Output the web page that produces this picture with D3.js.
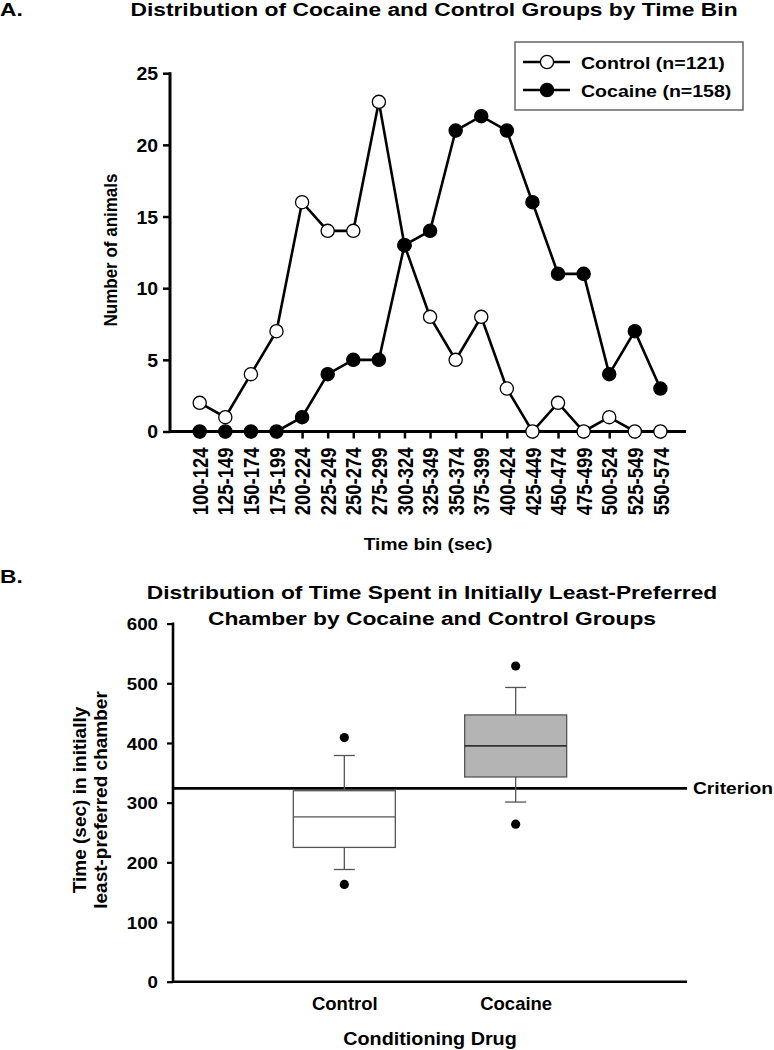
<!DOCTYPE html>
<html><head><meta charset="utf-8">
<script src="https://cdn.jsdelivr.net/npm/d3@7"></script>
<style>body{margin:0;background:#fff}svg{display:block}svg text{font-family:"Liberation Sans",Arial,sans-serif;font-weight:bold;fill:#000}</style>
</head><body><svg id="c" width="774" height="1050"></svg>
<script>
const bins = ["100-124","125-149","150-174","175-199","200-224","225-249","250-274","275-299","300-324","325-349","350-374","375-399","400-424","425-449","450-474","475-499","500-524","525-549","550-574"];
const controlCounts = [2,1,4,7,16,14,14,23,13,8,5,8,3,0,2,0,1,0,0];
const cocaineCounts = [0,0,0,0,1,4,5,5,13,14,21,22,21,16,11,11,4,7,3];
const countTicks = [0,5,10,15,20,25];
const seriesNames = ["Control (n=121)","Cocaine (n=158)"];

const groups = ["Control","Cocaine"];
const boxQ1 = [225,343];
const boxMedian = [276,395];
const boxQ3 = [320,447];
const whiskerLow = [188,301];
const whiskerHigh = [379,493];
const outliers = [[409,163],[529,264]];
const criterion = 324;
const timeTicks = [0,100,200,300,400,500,600];

const svg = d3.select("#c");

// text helper with horizontal stretch (reference glyphs are widened)
function txt(x, y, s, size, sx, anchor, rot){
  const t = svg.append("text").attr("font-size",size).attr("text-anchor",anchor||"start")
    .attr("transform",`translate(${x},${y}) scale(${sx},1)` + (rot?` rotate(${rot})`:""))
    .text(s);
  return t;
}

// ---------- Panel A ----------
txt(0,16,"A.",19,1.2);
txt(434,16,"Distribution of Cocaine and Control Groups by Time Bin",19,1.2,"middle");

const xA = d3.scaleLinear().domain([-1.2,19]).range([169,686]);
const yA = d3.scaleLinear().domain([0,25]).range([431.5,73.2]);

const gA = svg.append("g");
const ga = gA.append("g").attr("transform","translate(170,0)")
  .call(d3.axisLeft(yA).tickValues(countTicks).tickSize(7).tickSizeOuter(0));
ga.select(".domain").attr("stroke-width",3).attr("d","M0,"+(yA(0)+1.5)+"V"+(yA(25)-1));
ga.selectAll(".tick line").attr("stroke-width",2.5);
ga.selectAll(".tick text").attr("font-size",18).attr("x",0).attr("dy","0.36em")
  .attr("transform","translate(-12,0) scale(1.08,1)");

const gx = gA.append("g").attr("transform","translate(0,"+yA(0)+")")
  .call(d3.axisBottom(xA).tickValues(d3.range(bins.length)).tickFormat(i=>bins[i]).tickSize(7).tickSizeOuter(0));
gx.select(".domain").attr("stroke-width",3).attr("d","M169,0H686");
gx.selectAll(".tick line").attr("stroke-width",2.5);
gx.selectAll(".tick text").attr("font-size",18.5).attr("text-anchor","end").attr("x",0).attr("y",0).attr("dy","0.36em")
  .attr("transform","translate(0,16) scale(1.15,1) rotate(-90)");

txt(117,250,"Number of animals",17,1.1,"middle",-90);
txt(428,550,"Time bin (sec)",16,1.2,"middle");

const line = d3.line().x((d,i)=>xA(i)).y(d=>yA(d));
[[controlCounts,"#fff"],[cocaineCounts,"#000"]].forEach(([vals,fill])=>{
  gA.append("path").attr("d",line(vals)).attr("fill","none").attr("stroke","#000").attr("stroke-width",2.6);
  gA.selectAll(null).data(vals).enter().append("circle")
    .attr("cx",(d,i)=>xA(i)).attr("cy",d=>yA(d)).attr("r",6.6)
    .attr("fill",fill).attr("stroke","#000").attr("stroke-width",1.3);
});

// legend
const lg = svg.append("g");
lg.append("rect").attr("x",515).attr("y",42).attr("width",228).attr("height",68).attr("fill","#fff").attr("stroke","#666").attr("stroke-width",1.5);
seriesNames.forEach((n,i)=>{
  const y = 62 + i*28;
  lg.append("line").attr("x1",523).attr("x2",570).attr("y1",y).attr("y2",y).attr("stroke","#000").attr("stroke-width",2.6);
  lg.append("circle").attr("cx",547).attr("cy",y).attr("r",6.6).attr("fill",i===0?"#fff":"#000").attr("stroke","#000").attr("stroke-width",1.3);
  txt(581,y+6.5,n,17,1.15);
});

// ---------- Panel B ----------
txt(0,583,"B.",19,1.2);
txt(432,599,"Distribution of Time Spent in Initially Least-Preferred",19,1.2,"middle");
txt(432,625,"Chamber by Cocaine and Control Groups",19,1.2,"middle");

const xB = d3.scalePoint().domain(groups).range([173,687]).padding(1);
const yB = d3.scaleLinear().domain([0,600]).range([981.7,623.6]);

const gyB = svg.append("g").attr("transform","translate(173,0)")
  .call(d3.axisLeft(yB).tickValues(timeTicks).tickSize(6).tickSizeOuter(0));
gyB.select(".domain").attr("stroke-width",2.6).attr("d","M0,"+(yB(0)+1.3)+"V"+(yB(600)-1));
gyB.selectAll(".tick line").attr("stroke-width",2.2);
gyB.selectAll(".tick text").attr("font-size",17).attr("x",0).attr("dy","0.36em")
  .attr("transform","translate(-15,0) scale(1.1,1)");

const gxB = svg.append("g").attr("transform","translate(0,"+yB(0)+")")
  .call(d3.axisBottom(xB).tickSize(0).tickSizeOuter(0));
gxB.select(".domain").attr("stroke-width",2.6).attr("d","M173,0H687");
gxB.selectAll(".tick text").attr("font-size",18.5).attr("y",0).attr("dy",0).attr("transform","translate(0,28)");

txt(430,1045,"Conditioning Drug",18.5,1.07,"middle");
txt(86,800,"Time (sec) in initially",19,1,"middle",-90);
txt(107,800,"least-preferred chamber",19,1,"middle",-90);

// criterion
svg.append("line").attr("x1",173).attr("x2",687).attr("y1",yB(criterion)).attr("y2",yB(criterion)).attr("stroke","#000").attr("stroke-width",2.6);
txt(693,yB(criterion)+6,"Criterion",17,1.13);

const bw = 102, cap = 21;
groups.forEach((g,i)=>{
  const cx = xB(g);
  const gg = svg.append("g");
  const st = "#555";
  gg.append("line").attr("x1",cx).attr("x2",cx).attr("y1",yB(whiskerHigh[i])).attr("y2",yB(boxQ3[i])).attr("stroke",st).attr("stroke-width",1.3);
  gg.append("line").attr("x1",cx).attr("x2",cx).attr("y1",yB(boxQ1[i])).attr("y2",yB(whiskerLow[i])).attr("stroke",st).attr("stroke-width",1.3);
  gg.append("line").attr("x1",cx-cap/2).attr("x2",cx+cap/2).attr("y1",yB(whiskerHigh[i])).attr("y2",yB(whiskerHigh[i])).attr("stroke",st).attr("stroke-width",1.3);
  gg.append("line").attr("x1",cx-cap/2).attr("x2",cx+cap/2).attr("y1",yB(whiskerLow[i])).attr("y2",yB(whiskerLow[i])).attr("stroke",st).attr("stroke-width",1.3);
  gg.append("rect").attr("x",cx-bw/2).attr("width",bw).attr("y",yB(boxQ3[i])).attr("height",yB(boxQ1[i])-yB(boxQ3[i]))
    .attr("fill",i===0?"#fff":"#b4b4b4").attr("stroke",st).attr("stroke-width",1.3);
  gg.append("line").attr("x1",cx-bw/2).attr("x2",cx+bw/2).attr("y1",yB(boxMedian[i])).attr("y2",yB(boxMedian[i])).attr("stroke",i===0?st:"#333").attr("stroke-width",i===0?1.3:1.8);
  outliers[i].forEach(v=>{
    gg.append("circle").attr("cx",cx).attr("cy",yB(v)).attr("r",4.6).attr("fill","#000");
  });
});
</script></body></html>
